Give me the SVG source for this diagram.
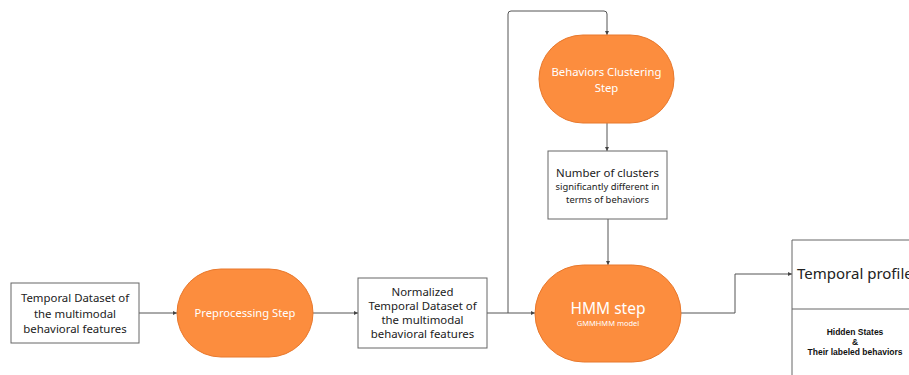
<svg xmlns="http://www.w3.org/2000/svg" width="909" height="375" viewBox="0 0 909 375">
<defs>
<style>
.box{fill:#fff;stroke:#666;stroke-width:1}
.pill{fill:#FC8D3E;stroke:#E8782C;stroke-width:1}
.conn{fill:none;stroke:#555;stroke-width:1}
.t{font-family:"Noto Sans","Open Sans",sans-serif;fill:#222;text-anchor:middle}
.w{font-family:"Noto Sans","Open Sans",sans-serif;fill:#fff;text-anchor:middle}
.a{font-family:"Liberation Sans",Arial,sans-serif;font-weight:bold;fill:#111;text-anchor:middle;font-size:8.5px}
</style>
<marker id="arr" viewBox="0 0 6 6" refX="6" refY="3" markerWidth="4" markerHeight="4" orient="auto"><path d="M0,0L6,3L0,6z" fill="#444"/></marker>
</defs>
<rect width="909" height="375" fill="#fff"/>
<g id="connectors">
<path class="conn" d="M139,313H177" marker-end="url(#arr)"/>
<path class="conn" d="M313,313H358" marker-end="url(#arr)"/>
<path class="conn" d="M487,313H535" marker-end="url(#arr)"/>
<path class="conn" d="M508,313V14Q508,11 511,11H604Q607,11 607,14V35" marker-end="url(#arr)"/>
<path class="conn" d="M607,123V151" marker-end="url(#arr)"/>
<path class="conn" d="M608,219V265" marker-end="url(#arr)"/>
<path class="conn" d="M681,313H735V274H792" marker-end="url(#arr)"/>
</g>
<g id="n1">
<rect class="box" x="11" y="283" width="128" height="60"/>
<text class="t" font-size="11.4"><tspan x="75" y="302">Temporal Dataset of</tspan><tspan x="75" y="317.5">the multimodal</tspan><tspan x="75" y="333">behavioral features</tspan></text>
</g>
<g id="n2">
<rect class="pill" x="177" y="269" width="136" height="88" rx="44"/>
<text class="w" x="245" y="317" font-size="11.2">Preprocessing Step</text>
</g>
<g id="n3">
<rect class="box" x="358" y="278" width="129" height="70"/>
<text class="t" font-size="11.4"><tspan x="422.5" y="296">Normalized</tspan><tspan x="422.5" y="310">Temporal Dataset of</tspan><tspan x="422.5" y="324">the multimodal</tspan><tspan x="422.5" y="338">behavioral features</tspan></text>
</g>
<g id="n4">
<rect class="pill" x="539" y="35" width="135" height="88" rx="44"/>
<text class="w" font-size="11.3"><tspan x="606.5" y="76">Behaviors Clustering</tspan><tspan x="606.5" y="92">Step</tspan></text>
</g>
<g id="n5">
<rect class="box" x="548" y="151" width="119" height="68"/>
<text class="t"><tspan x="607.5" y="177" font-size="11.4">Number of clusters</tspan><tspan x="607.5" y="190" font-size="9.4">significantly different in</tspan><tspan x="607.5" y="203" font-size="9.4">terms of behaviors</tspan></text>
</g>
<g id="n6">
<rect class="pill" x="535" y="265" width="146" height="97" rx="48.5"/>
<text class="w" x="608" y="314" font-size="15.5">HMM step</text>
<text class="w" x="608" y="326" font-size="7.5">GMMHMM model</text>
</g>
<g id="n7">
<path class="box" d="M912,240H792V376"/>
<path class="box" d="M792,309H912"/>
<text class="t" x="797" y="279" font-size="15" style="text-anchor:start">Temporal profile</text>
<text class="a"><tspan x="855" y="335">Hidden States</tspan><tspan x="855" y="345">&amp;</tspan><tspan x="855" y="355">Their labeled behaviors</tspan></text>
</g>
</svg>
